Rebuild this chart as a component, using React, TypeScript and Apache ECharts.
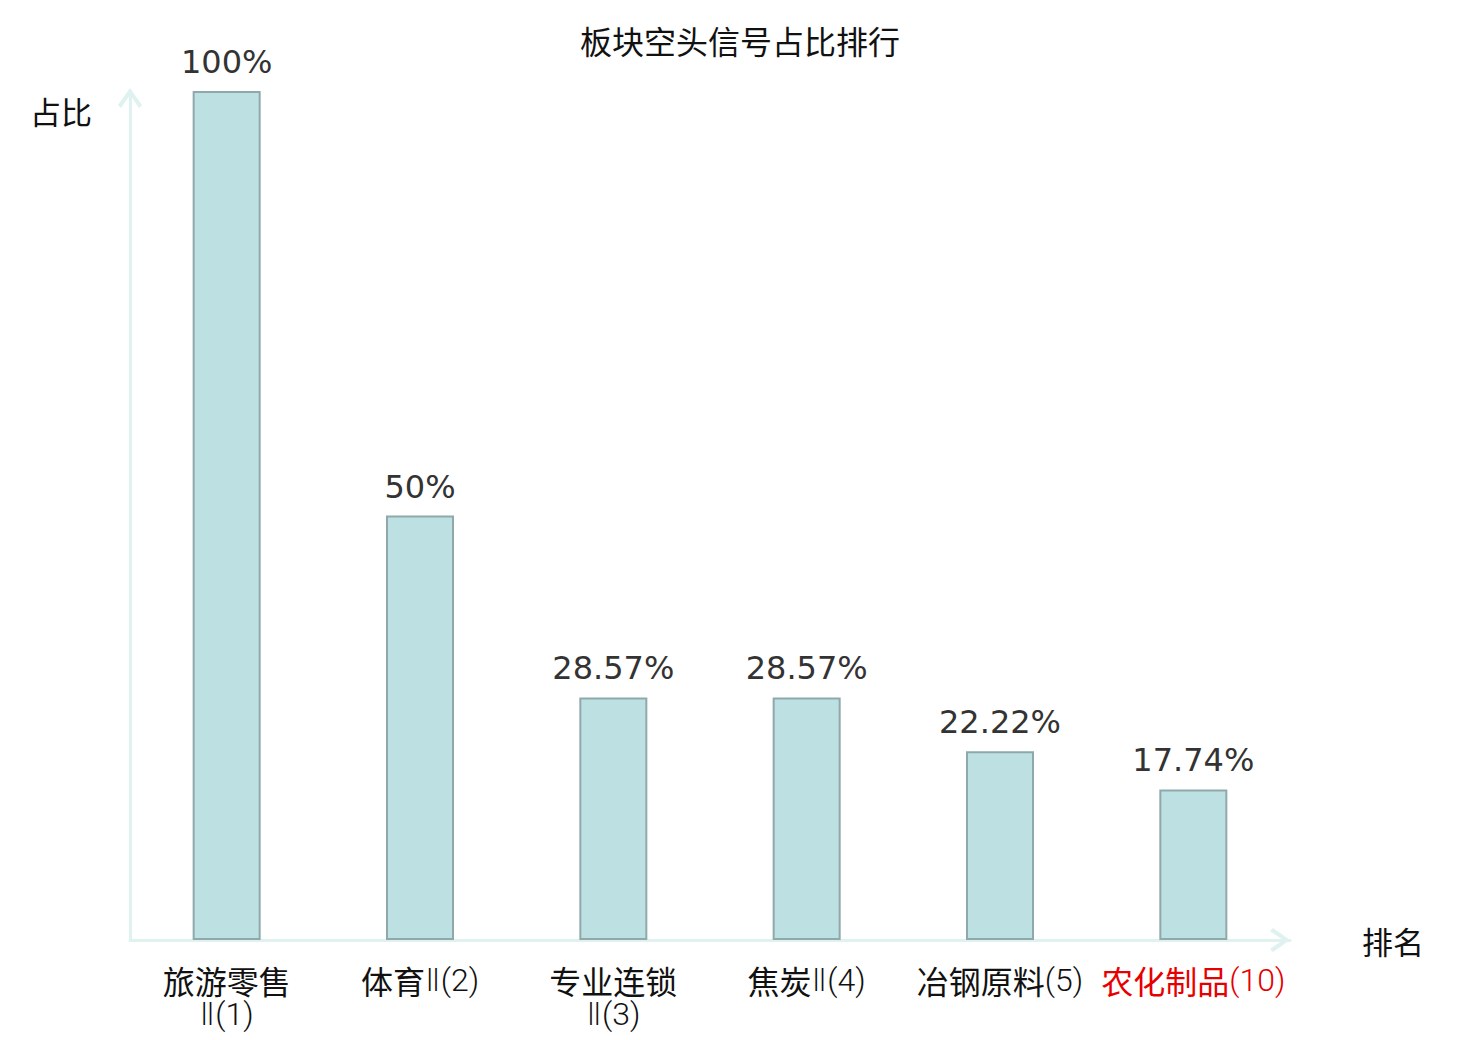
import React, { useEffect, useRef } from "react";
import * as echarts from "echarts";

const titleText = "板块空头信号占比排行";
const categories = ["旅游零售\nⅡ(1)", "体育Ⅱ(2)", "专业连锁\nⅡ(3)", "焦炭Ⅱ(4)", "冶钢原料(5)", "农化制品(10)"];
const values = [100, 50, 28.57, 28.57, 22.22, 17.74];
const highlighted = [false, false, false, false, false, true];
const yName = "占比";
const xName = "排名";

const CJK = "'Noto Sans CJK SC', 'Noto Sans', sans-serif";
const THIN = "Roboto, 'DejaVu Sans', sans-serif";
const chevron = "path://M12,0 L24,17 L21,20 L12,7 L3,20 L0,17 Z";

function labelFormatter(value: string, index: number) {
  const red = highlighted[index];
  return value
    .split("\n")
    .map((line) => {
      const m = line.match(/^([\u4e00-\u9fff]*)(.*)$/);
      const cjk = m ? m[1] : line;
      const rest = m ? m[2] : "";
      let s = "";
      if (cjk) s += `{${red ? "cr" : "c"}|${cjk}}`;
      if (rest) s += `{${red ? "lr" : "l"}|${rest}}`;
      return s;
    })
    .join("\n");
}

export default function App() {
  const ref = useRef<HTMLDivElement>(null);
  useEffect(() => {
    document.body.style.margin = "0";
    const chart = echarts.init(ref.current!, null, { renderer: "svg" });
    const baseC = { fontFamily: CJK, fontSize: 32, lineHeight: 34, fontWeight: "normal" };
    const baseL = { fontFamily: THIN, fontSize: 32, lineHeight: 34, fontWeight: 300 };
    chart.setOption({
      animation: false,
      backgroundColor: "#ffffff",
      title: {
        text: titleText,
        left: "center",
        top: 24,
        padding: 0,
        textStyle: { fontFamily: CJK, fontSize: 32, fontWeight: "normal", color: "#111111" },
      },
      grid: { left: 130, right: 190, top: 91, bottom: 100 },
      xAxis: {
        type: "category",
        data: categories,
        name: xName,
        nameLocation: "end",
        nameGap: 72,
        nameTextStyle: { fontFamily: CJK, fontSize: 31, color: "#111111" },
        axisLine: {
          show: true,
          symbol: ["none", chevron],
          symbolSize: [24, 20],
          symbolOffset: [0, -10],
          lineStyle: { color: "#dff2ef", width: 3 },
        },
        axisTick: { show: false },
        axisLabel: {
          interval: 0,
          margin: 23,
          formatter: labelFormatter,
          rich: {
            c: { ...baseC, color: "#111111" },
            l: { ...baseL, color: "#111111" },
            cr: { ...baseC, color: "#e60000" },
            lr: { ...baseL, color: "#e60000" },
          },
        },
      },
      yAxis: {
        type: "value",
        min: 0,
        max: 100,
        name: yName,
        nameLocation: "end",
        nameGap: -19,
        nameTextStyle: {
          fontFamily: CJK,
          fontSize: 31,
          color: "#111111",
          align: "right",
          verticalAlign: "middle",
          padding: [0, 38, 0, 0],
        },
        axisLine: {
          show: true,
          symbol: ["none", chevron],
          symbolSize: [24, 20],
          symbolOffset: [0, -7],
          lineStyle: { color: "#dff2ef", width: 3 },
        },
        axisTick: { show: false },
        axisLabel: { show: false },
        splitLine: { show: false },
      },
      series: [
        {
          type: "bar",
          data: values,
          barWidth: 68,
          itemStyle: { color: "#bde0e3", borderColor: "#8fa9aa", borderWidth: 2 },
          label: {
            show: true,
            position: "top",
            distance: 13,
            fontFamily: "'DejaVu Sans', sans-serif",
            fontSize: 32,
            color: "#333333",
            formatter: (p: any) => `${p.value}%`,
          },
        },
      ],
    });
    return () => chart.dispose();
  }, []);
  return <div ref={ref} style={{ width: 1480, height: 1040 }} />;
}
